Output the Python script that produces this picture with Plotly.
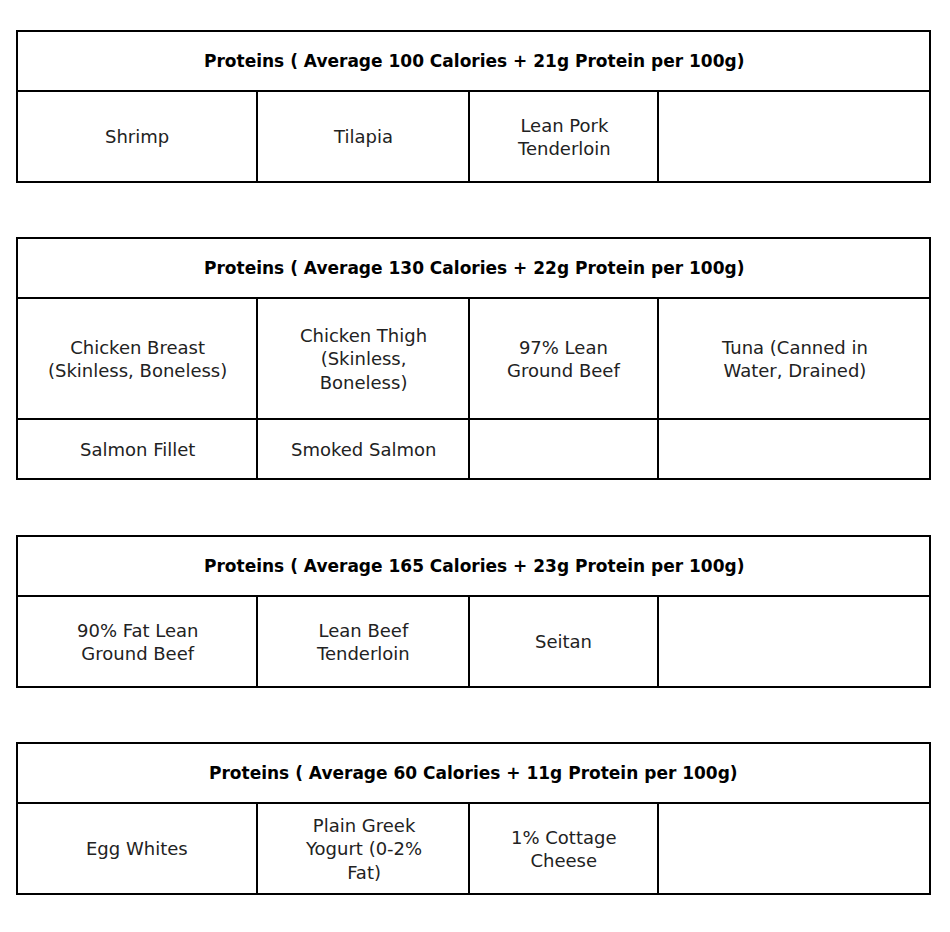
import plotly.graph_objects as go

headers = [
    "Proteins ( Average 100 Calories + 21g Protein per 100g)",
    "Proteins ( Average 130 Calories + 22g Protein per 100g)",
    "Proteins ( Average 165 Calories + 23g Protein per 100g)",
    "Proteins ( Average 60 Calories + 11g Protein per 100g)",
]
rows = [
    [["Shrimp", "Tilapia", "Lean Pork<br>Tenderloin", ""]],
    [["Chicken Breast<br>(Skinless, Boneless)", "Chicken Thigh<br>(Skinless,<br>Boneless)", "97% Lean<br>Ground Beef", "Tuna (Canned in<br>Water, Drained)"],
     ["Salmon Fillet", "Smoked Salmon", "", ""]],
    [["90% Fat Lean<br>Ground Beef", "Lean Beef<br>Tenderloin", "Seitan", ""]],
    [["Egg Whites", "Plain Greek<br>Yogurt (0-2%<br>Fat)", "1% Cottage<br>Cheese", ""]],
]

# layout geometry
tops = [31, 238, 536, 743]
row_heights = [[91], [121, 60], [91], [91]]
header_h = 60
xl, xr = 17, 930
cols = [17, 257, 469, 658, 930]
font = "DejaVu Sans, sans-serif"
off = 8  # page body margin compensation

fig = go.Figure()
shapes, anns = [], []
line = dict(color="black", width=2)
for t, hdr, rws, rhs in zip(tops, headers, rows, row_heights):
    bottom = t + header_h + sum(rhs)
    shapes.append(dict(type="rect", x0=xl, x1=xr, y0=t, y1=bottom, line=line, xref="x", yref="y"))
    shapes.append(dict(type="line", x0=xl, x1=xr, y0=t + header_h, y1=t + header_h, line=line, xref="x", yref="y"))
    anns.append(dict(x=(xl + xr) / 2, y=t + header_h / 2, text="<b>" + hdr + "</b>", showarrow=False,
                     xref="x", yref="y", font=dict(family=font, size=17, color="black")))
    y = t + header_h
    for r, h in zip(rws, rhs):
        for c in cols[1:-1]:
            shapes.append(dict(type="line", x0=c, x1=c, y0=y, y1=y + h, line=line, xref="x", yref="y"))
        for i, txt in enumerate(r):
            if txt:
                anns.append(dict(x=(cols[i] + cols[i + 1]) / 2, y=y + h / 2, text=txt, showarrow=False,
                                 xref="x", yref="y", font=dict(family=font, size=18, color="#222"),
                                 align="center"))
        y += h
        if y < bottom:
            shapes.append(dict(type="line", x0=xl, x1=xr, y0=y, y1=y, line=line, xref="x", yref="y"))

fig.update_layout(
    width=950, height=932, margin=dict(l=0, r=0, t=0, b=0),
    plot_bgcolor="white", paper_bgcolor="white",
    xaxis=dict(range=[off, 950 + off], visible=False, fixedrange=True),
    yaxis=dict(range=[932 + off, off], visible=False, fixedrange=True),
    shapes=shapes, annotations=anns, showlegend=False,
)
fig.write_html("out.html")
